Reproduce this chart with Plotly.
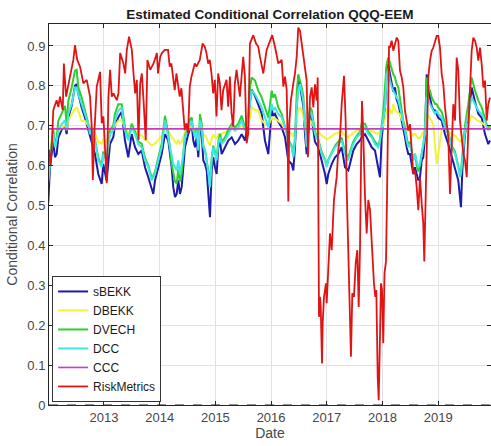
import plotly.graph_objects as go

# ---------------- data (decimal years, correlations) ----------------
garch_years = [
    2012.000, 2012.031, 2012.061, 2012.090, 2012.120, 2012.151, 2012.180, 2012.241, 2012.300, 2012.330,
    2012.359, 2012.420, 2012.479, 2012.510, 2012.539, 2012.600, 2012.659, 2012.718, 2012.749, 2012.779,
    2012.838, 2012.898, 2012.959, 2012.987, 2013.048, 2013.108, 2013.167, 2013.197, 2013.257, 2013.318,
    2013.346, 2013.377, 2013.436, 2013.497, 2013.557, 2013.616, 2013.677, 2013.736, 2013.795, 2013.856,
    2013.885, 2013.916, 2013.975, 2014.036, 2014.095, 2014.154, 2014.215, 2014.244, 2014.275, 2014.305,
    2014.334, 2014.364, 2014.395, 2014.424, 2014.454, 2014.513, 2014.544, 2014.574, 2014.603, 2014.634,
    2014.664, 2014.693, 2014.724, 2014.754, 2014.783, 2014.813, 2014.844, 2014.873, 2014.903, 2014.934,
    2014.962, 2014.993, 2015.023, 2015.052, 2015.083, 2015.113, 2015.172, 2015.232, 2015.293, 2015.352,
    2015.411, 2015.472, 2015.531, 2015.591, 2015.621, 2015.652, 2015.711, 2015.770, 2015.831, 2015.890,
    2015.950, 2016.011, 2016.039, 2016.070, 2016.129, 2016.190, 2016.250, 2016.309, 2016.370, 2016.399,
    2016.429, 2016.460, 2016.488, 2016.519, 2016.549, 2016.578, 2016.609, 2016.639, 2016.668, 2016.698,
    2016.729, 2016.758, 2016.788, 2016.847, 2016.908, 2016.968, 2016.998, 2017.027, 2017.088, 2017.147,
    2017.206, 2017.267, 2017.327, 2017.386, 2017.416, 2017.476, 2017.537, 2017.596, 2017.626, 2017.686,
    2017.745, 2017.806, 2017.865, 2017.925, 2017.955, 2017.986, 2018.014, 2018.045, 2018.075, 2018.104,
    2018.135, 2018.165, 2018.194, 2018.224, 2018.255, 2018.284, 2018.314, 2018.345, 2018.373, 2018.404,
    2018.434, 2018.463, 2018.494, 2018.524, 2018.553, 2018.583, 2018.614, 2018.643, 2018.673, 2018.704,
    2018.732, 2018.763, 2018.794, 2018.822, 2018.853, 2018.883, 2018.912, 2018.943, 2018.973, 2019.002,
    2019.063, 2019.122, 2019.181, 2019.242, 2019.302, 2019.361, 2019.391, 2019.409, 2019.433, 2019.481,
    2019.540, 2019.601, 2019.661, 2019.720, 2019.781, 2019.840, 2019.899, 2019.930,
]

dcc = [
    .558, .610, .654, .679, .646, .662, .688, .704, .713, .688,
    .729, .754, .796, .796, .779, .754, .729, .704, .679, .688,
    .663, .613, .596, .629, .613, .679, .688, .713, .738, .746,
    .713, .688, .663, .696, .679, .654, .646, .613, .596, .563,
    .570, .579, .613, .646, .713, .671, .629, .604, .596, .588,
    .613, .579, .604, .629, .671, .688, .704, .713, .688, .671,
    .688, .638, .713, .696, .646, .638, .613, .579, .546, .613,
    .646, .629, .613, .654, .671, .654, .663, .679, .696, .688,
    .696, .713, .688, .721, .763, .788, .779, .763, .746, .721,
    .696, .754, .738, .746, .729, .721, .696, .663, .646, .621,
    .663, .746, .788, .804, .779, .763, .713, .646, .696, .738,
    .729, .704, .679, .663, .629, .613, .596, .613, .629, .646,
    .654, .663, .629, .613, .629, .654, .671, .679, .696, .696,
    .679, .671, .654, .646, .663, .688, .713, .746, .829, .838,
    .813, .796, .788, .779, .771, .763, .746, .729, .704, .688,
    .663, .646, .654, .629, .613, .629, .613, .596, .604, .629,
    .646, .679, .771, .763, .754, .746, .738, .729, .738, .729,
    .721, .696, .679, .646, .629, .596, .571, .580, .613, .688,
    .729, .771, .754, .738, .729, .713, .688, .696,
]

sbekk = [
    .508, .596, .629, .660, .621, .629, .670, .690, .700, .679,
    .720, .750, .800, .804, .780, .745, .720, .688, .671, .662,
    .629, .579, .554, .604, .562, .654, .671, .700, .721, .735,
    .700, .663, .621, .679, .646, .629, .638, .596, .571, .538,
    .529, .563, .596, .629, .679, .663, .596, .546, .521, .529,
    .563, .529, .546, .604, .646, .679, .696, .705, .663, .646,
    .670, .621, .700, .680, .613, .604, .588, .529, .471, .588,
    .621, .596, .579, .646, .660, .629, .646, .663, .671, .654,
    .663, .679, .663, .710, .760, .790, .775, .750, .730, .663,
    .629, .740, .725, .730, .710, .696, .671, .613, .604, .588,
    .646, .740, .825, .800, .770, .750, .679, .629, .688, .730,
    .720, .696, .660, .646, .613, .579, .554, .579, .604, .621,
    .629, .646, .596, .588, .604, .638, .654, .663, .671, .679,
    .663, .646, .638, .596, .571, .671, .700, .740, .846, .854,
    .829, .800, .785, .796, .765, .755, .735, .715, .688, .671,
    .646, .629, .629, .604, .579, .596, .579, .563, .571, .613,
    .621, .671, .829, .796, .770, .750, .740, .738, .730, .720,
    .713, .679, .654, .621, .588, .563, .521, .496, .588, .679,
    .720, .796, .760, .730, .720, .679, .654, .663,
]

dvech = [
    .565, .615, .660, .690, .650, .670, .712, .730, .750, .700,
    .762, .796, .838, .840, .796, .771, .738, .712, .688, .695,
    .665, .620, .600, .635, .615, .690, .700, .730, .754, .754,
    .725, .695, .665, .705, .685, .660, .655, .620, .600, .570,
    .575, .585, .620, .655, .725, .680, .604, .580, .560, .555,
    .590, .560, .580, .625, .675, .695, .715, .721, .690, .675,
    .695, .645, .729, .705, .650, .640, .615, .585, .560, .620,
    .650, .635, .620, .660, .680, .660, .670, .690, .705, .695,
    .705, .725, .695, .729, .796, .821, .813, .788, .771, .746,
    .720, .788, .771, .779, .746, .730, .700, .665, .650, .625,
    .670, .779, .829, .813, .796, .775, .720, .650, .705, .746,
    .740, .710, .685, .665, .635, .615, .600, .615, .635, .650,
    .660, .670, .635, .620, .635, .660, .675, .685, .705, .705,
    .685, .675, .660, .650, .665, .700, .735, .796, .855, .871,
    .854, .838, .829, .821, .804, .796, .763, .740, .712, .695,
    .668, .650, .660, .635, .615, .630, .600, .585, .600, .630,
    .650, .690, .821, .796, .788, .771, .763, .755, .754, .746,
    .735, .705, .685, .650, .635, .600, .580, .585, .620, .700,
    .754, .821, .788, .763, .746, .720, .690, .700,
]

dbekk = [
    .600, .630, .665, .680, .665, .672, .685, .695, .700, .690,
    .710, .729, .742, .745, .737, .712, .712, .700, .695, .693,
    .680, .660, .655, .665, .660, .685, .690, .700, .712, .715,
    .705, .695, .680, .695, .688, .678, .675, .665, .660, .650,
    .652, .655, .665, .675, .698, .685, .670, .665, .660, .655,
    .665, .655, .660, .670, .685, .690, .695, .700, .690, .685,
    .690, .675, .700, .695, .678, .675, .668, .660, .650, .668,
    .678, .672, .668, .680, .671, .680, .683, .688, .692, .690,
    .692, .700, .690, .705, .720, .746, .740, .738, .713, .705,
    .700, .720, .715, .718, .712, .705, .695, .685, .680, .672,
    .690, .715, .740, .745, .738, .725, .705, .680, .695, .712,
    .710, .700, .690, .685, .675, .670, .665, .668, .675, .680,
    .682, .686, .675, .670, .675, .682, .688, .690, .695, .695,
    .690, .686, .682, .680, .685, .692, .700, .715, .740, .745,
    .738, .730, .754, .740, .735, .732, .729, .715, .712, .700,
    .690, .688, .690, .680, .675, .680, .672, .668, .670, .678,
    .682, .692, .730, .725, .720, .712, .700, .640, .604, .630,
    .690, .695, .688, .678, .675, .665, .660, .662, .670, .690,
    .705, .725, .718, .712, .708, .700, .693, .695,
]

ccc_level = 0.692

red_years = [
    2012.013, 2012.040, 2012.066, 2012.090, 2012.150, 2012.180, 2012.210, 2012.260, 2012.280, 2012.320,
    2012.390, 2012.450, 2012.480, 2012.520, 2012.570, 2012.630, 2012.690, 2012.750, 2012.780, 2012.800,
    2012.830, 2012.870, 2012.930, 2012.960, 2012.990, 2013.020, 2013.050, 2013.080, 2013.110, 2013.140,
    2013.170, 2013.230, 2013.260, 2013.290, 2013.350, 2013.380, 2013.410, 2013.450, 2013.500, 2013.530,
    2013.560, 2013.590, 2013.620, 2013.650, 2013.680, 2013.710, 2013.750, 2013.780, 2013.830, 2013.890,
    2013.950, 2013.970, 2014.010, 2014.040, 2014.090, 2014.150, 2014.180, 2014.210, 2014.270, 2014.300,
    2014.360, 2014.390, 2014.420, 2014.450, 2014.480, 2014.510, 2014.540, 2014.570, 2014.630, 2014.660,
    2014.720, 2014.770, 2014.810, 2014.840, 2014.870, 2014.900, 2014.930, 2014.960, 2014.990, 2015.020,
    2015.050, 2015.080, 2015.110, 2015.140, 2015.200, 2015.230, 2015.260, 2015.290, 2015.320, 2015.350,
    2015.380, 2015.440, 2015.500, 2015.530, 2015.560, 2015.590, 2015.620, 2015.680, 2015.730, 2015.770,
    2015.800, 2015.860, 2015.920, 2015.980, 2016.020, 2016.070, 2016.130, 2016.190, 2016.220, 2016.250,
    2016.280, 2016.298, 2016.309, 2016.327, 2016.357, 2016.399, 2016.429, 2016.460, 2016.488, 2016.519,
    2016.549, 2016.578, 2016.609, 2016.639, 2016.662, 2016.698, 2016.729, 2016.758, 2016.788, 2016.819,
    2016.837, 2016.860, 2016.878, 2016.891, 2016.914, 2016.926, 2016.950, 2016.986, 2016.998, 2017.027,
    2017.057, 2017.088, 2017.106, 2017.129, 2017.178, 2017.206, 2017.237, 2017.267, 2017.309, 2017.339,
    2017.357, 2017.386, 2017.416, 2017.434, 2017.458, 2017.488, 2017.519, 2017.548, 2017.573, 2017.596,
    2017.614, 2017.632, 2017.655, 2017.673, 2017.686, 2017.716, 2017.745, 2017.776, 2017.806, 2017.824,
    2017.847, 2017.871, 2017.889, 2017.914, 2017.932, 2017.950, 2017.973, 2017.991, 2018.014, 2018.036,
    2018.063, 2018.081, 2018.099, 2018.117, 2018.135, 2018.165, 2018.194, 2018.224, 2018.255, 2018.284,
    2018.314, 2018.345, 2018.373, 2018.404, 2018.434, 2018.463, 2018.494, 2018.524, 2018.553, 2018.583,
    2018.614, 2018.643, 2018.673, 2018.704, 2018.732, 2018.750, 2018.776, 2018.794, 2018.822, 2018.853,
    2018.883, 2018.912, 2018.943, 2018.973, 2019.002, 2019.032, 2019.063, 2019.092, 2019.122, 2019.153,
    2019.181, 2019.212, 2019.242, 2019.271, 2019.302, 2019.332, 2019.361, 2019.391, 2019.422, 2019.451,
    2019.481, 2019.512, 2019.540, 2019.571, 2019.601, 2019.630, 2019.661, 2019.691, 2019.720, 2019.750,
    2019.781, 2019.810, 2019.840, 2019.871, 2019.899, 2019.930,
]

riskmetrics = [
    .640, .600, .660, .739, .764, .747, .773, .739, .856, .773,
    .823, .865, .902, .865, .848, .806, .815, .773, .698, .564,
    .689, .798, .835, .706, .723, .623, .556, .773, .840, .773,
    .781, .764, .781, .882, .856, .831, .890, .923, .890, .831,
    .781, .815, .664, .806, .831, .764, .664, .865, .840, .856,
    .882, .831, .873, .882, .890, .890, .848, .856, .789, .831,
    .773, .794, .748, .689, .706, .681, .798, .823, .856, .848,
    .865, .906, .898, .882, .856, .865, .831, .781, .815, .723,
    .831, .806, .739, .789, .815, .748, .823, .731, .698, .806,
    .840, .773, .873, .823, .656, .681, .906, .927, .906, .898,
    .873, .831, .890, .911, .927, .898, .856, .865, .798, .823,
    .790, .654, .510, .706, .765, .806, .831, .873, .946, .938,
    .904, .871, .838, .813, .621, .771, .796, .746, .804, .763,
    .821, .221, .271, .246, .104, .205, .271, .305, .255, .338,
    .430, .388, .447, .514, .572, .639, .671, .754, .825, .710,
    .546, .388, .155, .121, .280, .271, .355, .388, .246, .390,
    .600, .762, .679, .546, .522, .430, .514, .489, .405, .372,
    .305, .271, .288, .070, .012, .138, .305, .290, .155, .330,
    .360, .520, .700, .900, .896, .913, .888, .904, .921, .913,
    .838, .821, .796, .738, .713, .688, .704, .646, .579, .588,
    .546, .488, .571, .504, .454, .360, .546, .713, .821, .863,
    .888, .896, .913, .925, .925, .896, .829, .804, .746, .713,
    .671, .529, .671, .754, .713, .871, .838, .713, .671, .629,
    .613, .571, .688, .796, .888, .921, .913, .896, .863, .896,
    .854, .796, .813, .713, .754, .771,
]

year_ticks = [2013, 2014, 2015, 2016, 2017, 2018, 2019]
corr_ticks = [0, 0.1, 0.2, 0.3, 0.4, 0.5, 0.6, 0.7, 0.8, 0.9]
x_range = [2012.013, 2019.948]
y_range = [0, 0.955]

# ---------------- figure ----------------
FONT = "Liberation Sans, Arial, Helvetica, sans-serif"
TEXT_GRAY = "#474747"
fig = go.Figure()

series = [
    ("sBEKK", garch_years, sbekk, "#1c1ca8"),
    ("DBEKK", garch_years, dbekk, "#f2f23a"),
    ("DVECH", garch_years, dvech, "#2fcf2f"),
    ("DCC", garch_years, dcc, "#3fe6e6"),
]
for name, xs, ys, col in series:
    fig.add_trace(go.Scatter(x=xs, y=ys, mode="lines", name=name,
                             line=dict(color=col, width=2.0)))

fig.add_trace(go.Scatter(x=[x_range[0], x_range[1]], y=[ccc_level, ccc_level], mode="lines",
                         name="CCC", line=dict(color="#c23fc2", width=1.6)))
fig.add_trace(go.Scatter(x=red_years, y=riskmetrics, mode="lines", name="RiskMetrics",
                         line=dict(color="#e01414", width=1.8)))

# dashed zero reference line
fig.add_shape(type="line", xref="paper", yref="y", x0=0, x1=1, y0=0, y1=0,
              line=dict(color="#222222", width=1.2, dash="dash"))

axis_common = dict(
    showgrid=True, gridcolor="#e2e2e2", gridwidth=1,
    showline=True, linecolor="#262626", linewidth=1, mirror="ticks",
    ticks="inside", ticklen=4, tickcolor="#262626",
    zeroline=False,
    tickfont=dict(family=FONT, size=13, color=TEXT_GRAY),
)

fig.update_layout(
    width=491, height=446,
    margin=dict(l=49, r=0, t=24, b=41, autoexpand=False),
    paper_bgcolor="white", plot_bgcolor="white",
    title=dict(text="<b>Estimated Conditional Correlation QQQ-EEM</b>",
               font=dict(family=FONT, size=13.5, color="#1a1a1a"),
               x=0.5495, xanchor="center", y=0.968, yanchor="middle"),
    xaxis=dict(axis_common, range=x_range, tickvals=year_ticks,
               ticktext=[str(y) for y in year_ticks],
               title=dict(text="Date", font=dict(family=FONT, size=14, color=TEXT_GRAY), standoff=4)),
    yaxis=dict(axis_common, range=y_range, tickvals=corr_ticks,
               ticktext=["0" if v == 0 else f"{v:.1f}" for v in corr_ticks],
               title=dict(text="Conditional Correlation",
                          font=dict(family=FONT, size=14, color=TEXT_GRAY), standoff=6)),
    legend=dict(x=0.007, y=0.008, xanchor="left", yanchor="bottom",
                bgcolor="white", bordercolor="#333333", borderwidth=1,
                font=dict(family=FONT, size=12, color="#1a1a1a"),
                itemwidth=30, tracegroupgap=0),
    showlegend=True,
)

fig.write_html("out.html")
